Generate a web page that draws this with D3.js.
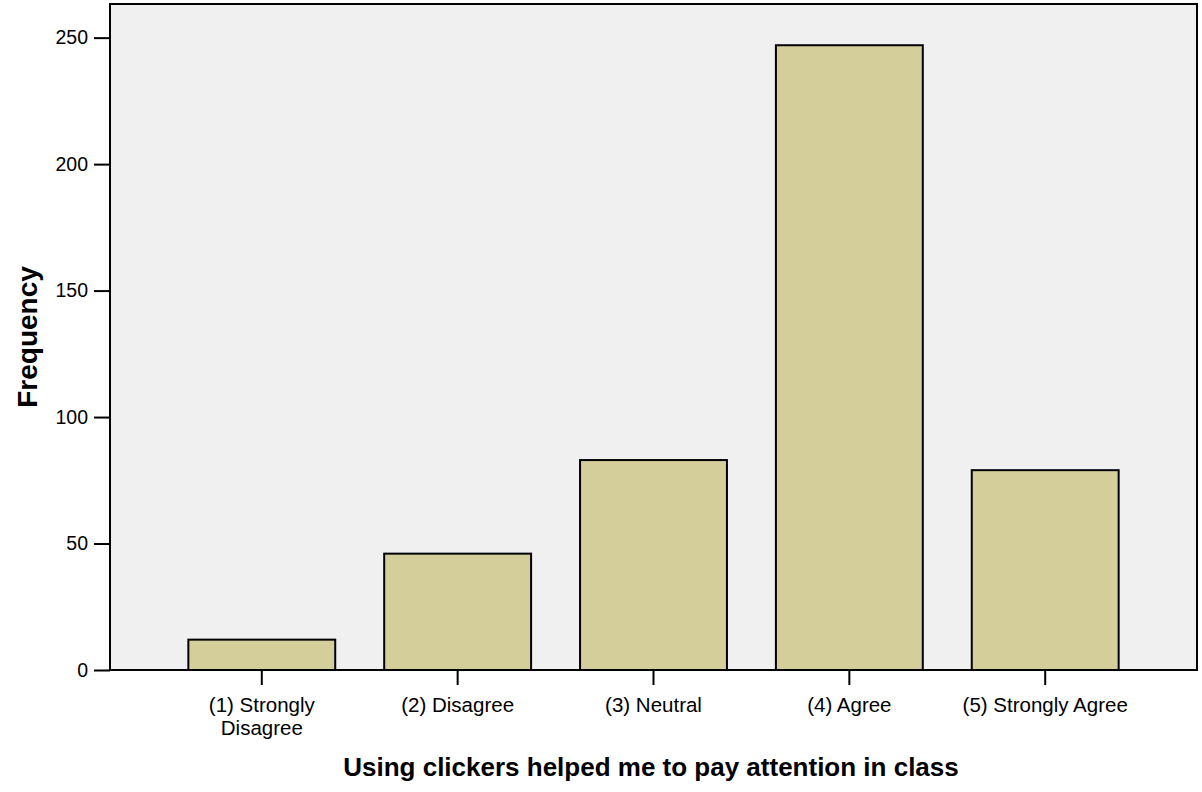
<!DOCTYPE html>
<html>
<head>
<meta charset="utf-8">
<script src="https://cdn.jsdelivr.net/npm/d3@7"></script>
<style>
  body { margin: 0; background: #fff; }
  svg { display: block; font-family: "Liberation Sans", Arial, sans-serif; }
</style>
</head>
<body>
<div id="chart"></div>
<script>
const categories = [
  "(1) Strongly|Disagree",
  "(2) Disagree",
  "(3) Neutral",
  "(4) Agree",
  "(5) Strongly Agree"
];
const frequencies = [12, 46, 83, 247, 79];
const yTicks = [0, 50, 100, 150, 200, 250];

const width = 1202, height = 792;
const plot = { left: 110, right: 1197, top: 4, bottom: 670 };

const svg = d3.select("#chart").append("svg")
  .attr("width", width)
  .attr("height", height);

const x = d3.scaleBand()
  .domain(categories)
  .range([plot.left, plot.right])
  .paddingInner(0.25)
  .paddingOuter(0.4);

const y = d3.scaleLinear()
  .domain([0, 263.3])
  .range([plot.bottom, plot.top]);

// plot background
svg.append("rect")
  .attr("x", plot.left)
  .attr("y", plot.top)
  .attr("width", plot.right - plot.left)
  .attr("height", plot.bottom - plot.top)
  .attr("fill", "#f0f0f0");

// bars
svg.selectAll("rect.bar")
  .data(frequencies)
  .enter().append("rect")
    .attr("class", "bar")
    .attr("x", (d, i) => x(categories[i]))
    .attr("y", d => y(d))
    .attr("width", x.bandwidth())
    .attr("height", d => y(0) - y(d))
    .attr("fill", "#d3ce9a")
    .attr("stroke", "#000")
    .attr("stroke-width", 2);

// frame
svg.append("rect")
  .attr("x", plot.left)
  .attr("y", plot.top)
  .attr("width", plot.right - plot.left)
  .attr("height", plot.bottom - plot.top)
  .attr("fill", "none")
  .attr("stroke", "#000")
  .attr("stroke-width", 2);

// y axis
const yAxis = d3.axisLeft(y).tickValues(yTicks).tickSize(16).tickPadding(6);
const gy = svg.append("g")
  .attr("transform", "translate(" + plot.left + ",0)")
  .call(yAxis);
gy.select(".domain").remove();
gy.selectAll(".tick line").attr("stroke", "#000").attr("stroke-width", 2);
gy.selectAll(".tick text")
  .attr("fill", "#000")
  .style("font-size", "19.5px")
  .style("font-family", "'Liberation Sans', Arial, sans-serif");

// x axis
const xAxis = d3.axisBottom(x).tickSize(15).tickPadding(12);
const gx = svg.append("g")
  .attr("transform", "translate(0," + plot.bottom + ")")
  .call(xAxis);
gx.select(".domain").remove();
gx.selectAll(".tick line").attr("stroke", "#000").attr("stroke-width", 2);
gx.selectAll(".tick text")
  .attr("fill", "#000")
  .style("font-size", "20.5px")
  .style("font-family", "'Liberation Sans', Arial, sans-serif")
  .each(function (d) {
    const parts = d.split("|");
    const t = d3.select(this).text(null);
    parts.forEach((p, i) => {
      t.append("tspan")
        .attr("x", 0)
        .attr("dy", i === 0 ? "0.71em" : "1.12em")
        .text(p);
    });
  });

// axis titles
svg.append("text")
  .attr("transform", "translate(37," + ((plot.top + plot.bottom) / 2) + ") rotate(-90)")
  .attr("text-anchor", "middle")
  .style("font-size", "28px")
  .style("font-weight", "bold")
  .text("Frequency");

svg.append("text")
  .attr("x", 651)
  .attr("y", 776)
  .attr("text-anchor", "middle")
  .style("font-size", "26px")
  .style("font-weight", "bold")
  .text("Using clickers helped me to pay attention in class");
</script>
</body>
</html>
